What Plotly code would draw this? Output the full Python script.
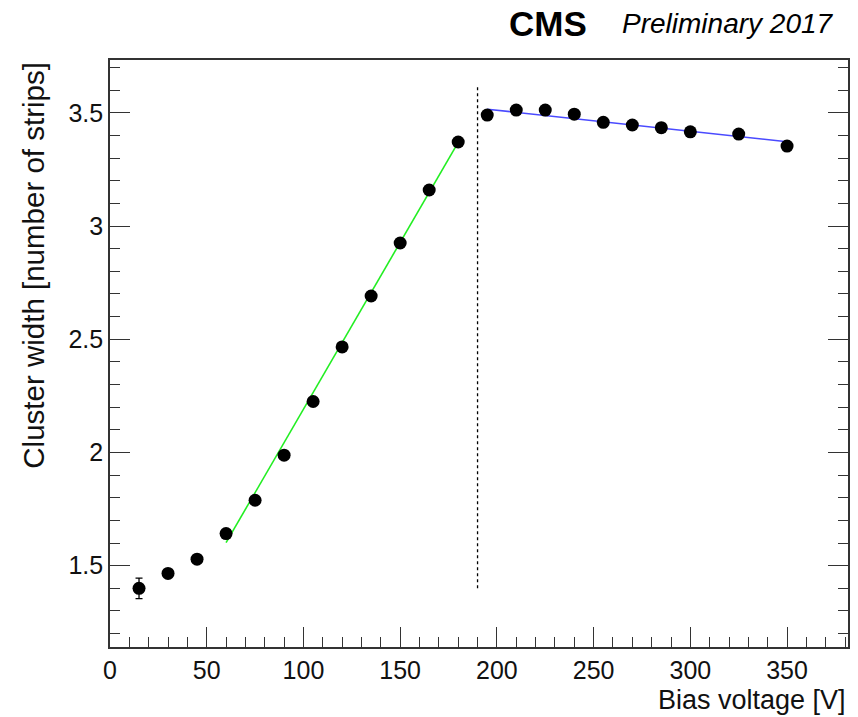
import plotly.graph_objects as go
import numpy as np

# ---- data ----
bias_v = [15, 30, 45, 60, 75, 90, 105, 120, 135, 150, 165, 180,
          195, 210, 225, 240, 255, 270, 285, 300, 325, 350]
cluster_w = [1.40, 1.466, 1.529, 1.642, 1.789, 1.988, 2.225, 2.466, 2.691, 2.925, 3.159, 3.371,
             3.49, 3.512, 3.512, 3.494, 3.458, 3.446, 3.434, 3.416, 3.406, 3.353]
cluster_err = [0.045, 0.01, 0.01, 0.01, 0.01, 0.01, 0.01, 0.01, 0.01, 0.01, 0.01, 0.01,
               0.01, 0.01, 0.01, 0.01, 0.01, 0.01, 0.01, 0.01, 0.01, 0.01]

# linear fits: (slope, intercept, x range)
fit_low = dict(slope=0.01473, intercept=0.718, xmin=60, xmax=180)
fit_high = dict(slope=-0.000929, intercept=3.697, xmin=195, xmax=350)

depletion_v = 190
depletion_y = [1.40, 3.62]

x_range = [0, 381.5]
y_range = [1.141, 3.733]

FONT = "Liberation Sans, Arial, Helvetica, sans-serif"

fig = go.Figure()

for fit, col in ((fit_low, "#22ee22"), (fit_high, "#4a4aff")):
    xs = [fit["xmin"], fit["xmax"]]
    ys = [fit["intercept"] + fit["slope"] * x for x in xs]
    fig.add_trace(go.Scatter(x=xs, y=ys, mode="lines",
                             line=dict(color=col, width=1.6), showlegend=False,
                             hoverinfo="skip"))

fig.add_trace(go.Scatter(x=[depletion_v, depletion_v], y=depletion_y, mode="lines",
                         line=dict(color="black", width=1.3, dash="3px,3px"),
                         showlegend=False, hoverinfo="skip"))

fig.add_trace(go.Scatter(
    x=bias_v, y=cluster_w, mode="markers",
    marker=dict(color="black", size=13),
    error_y=dict(type="data", array=cluster_err, color="black", thickness=1.3, width=3.5),
    showlegend=False))

axis_common = dict(
    showgrid=False, zeroline=False, showline=True, linecolor="#333", linewidth=1.6,
    ticks="inside", ticklen=20, tickwidth=1.3, tickcolor="#333",
    tickfont=dict(family=FONT, size=25, color="#111"),
)

fig.update_xaxes(range=x_range, dtick=50, tick0=0, mirror=True,
                 minor=dict(ticks="inside", ticklen=10, dtick=10, tickwidth=1.3, tickcolor="#333"),
                 **axis_common)
fig.update_yaxes(range=y_range, dtick=0.5, tick0=0, mirror="ticks",
                 tickformat="~g",
                 minor=dict(ticks="inside", ticklen=10, dtick=0.1, tickwidth=1.3, tickcolor="#333"),
                 **axis_common)

L, R, T, B = 110, 8, 60, 70
W, H = 858, 717
pw, ph = W - L - R, H - T - B

def px(xp):
    return (xp - L) / pw

def py(yp):
    return (H - B - yp) / ph

annotations = [
    dict(text="<b>CMS</b>", x=px(590), y=py(23), xref="paper", yref="paper",
         xanchor="right", yanchor="middle", showarrow=False,
         font=dict(family=FONT, size=35, color="black")),
    dict(text="<i>Preliminary 2017</i>", x=px(838), y=py(24), xref="paper", yref="paper",
         xanchor="right", yanchor="middle", showarrow=False,
         font=dict(family=FONT, size=28, color="black")),
    dict(text="Bias voltage [V]", x=1.0, y=py(717), xref="paper", yref="paper",
         xanchor="right", yanchor="bottom", showarrow=False,
         font=dict(family=FONT, size=27, color="#111")),
    dict(text="Cluster width [number of strips]", x=px(33), y=1.0, xref="paper", yref="paper",
         xanchor="center", yanchor="top", textangle=-90, showarrow=False,
         font=dict(family=FONT, size=29.5, color="#111")),
]

fig.update_layout(
    width=W, height=H,
    margin=dict(l=L, r=R, t=T, b=B, pad=0),
    paper_bgcolor="white", plot_bgcolor="white",
    annotations=annotations,
    showlegend=False,
)

fig.write_html("out.html")
